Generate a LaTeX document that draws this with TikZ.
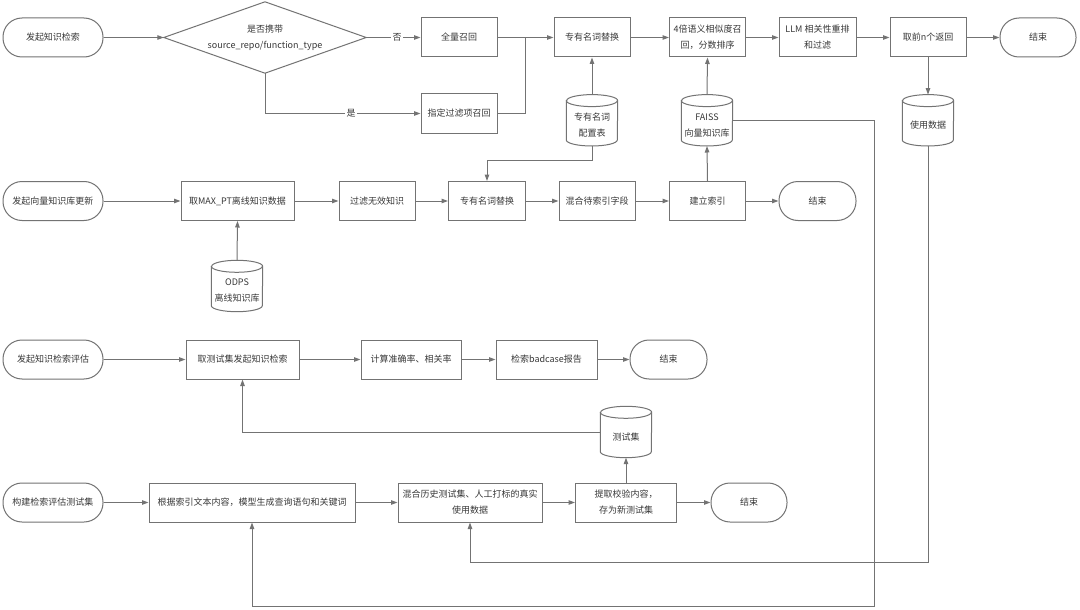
\documentclass[tikz,border=0pt]{standalone}
\usepackage{fontspec}
\setmainfont{Noto Sans CJK SC}
\usetikzlibrary{arrows.meta,calc}
\definecolor{ln}{HTML}{737373}
\definecolor{tx}{HTML}{383838}
\newcommand\drawcyl[1]{%
  \draw[cylline] ($(#1.north west)+(0,-6)$) -- ($(#1.south west)+(0,6)$)
    arc[start angle=180,end angle=360,x radius=25.5pt,y radius=6pt]
    -- ($(#1.north east)+(0,-6)$)
    arc[start angle=0,end angle=180,x radius=25.5pt,y radius=6pt] -- cycle;
  \draw[cylline] ($(#1.north west)+(0,-6)$)
    arc[start angle=180,end angle=360,x radius=25.5pt,y radius=6pt];}
\begin{document}
\begin{tikzpicture}[x=1pt,y=1pt,
  base/.style={text=tx, font=\fontsize{9}{16}\selectfont, align=center, inner sep=1pt},
  box/.style={base, draw=ln, line width=1pt, rectangle, minimum height=39pt},
  term/.style={box, rounded corners=19pt, minimum width=100pt},
  cyl/.style={rectangle, minimum width=51pt, minimum height=51pt, inner sep=0pt},
  cyltext/.style={base, yshift=-5pt},
  cylline/.style={draw=ln, line width=1pt},
  lbl/.style={base, fill=white, inner sep=1.5pt},
  arr/.style={draw=ln, line width=1pt, -{Triangle[length=6.5pt,width=4.5pt]}},
  line/.style={draw=ln, line width=1pt}]
\fill[white] (0,0) rectangle (1080,-610);
\useasboundingbox (0,0) rectangle (1080,-610);

% Row 1
\node[term] (s1) at (53,-37.5) {发起知识检索};
\node[base, minimum width=202pt, minimum height=71pt] (dia) at (265,-37.5) {是否携带\\source\_repo/function\_type};
\draw[line] (dia.north) -- (dia.east) -- (dia.south) -- (dia.west) -- cycle;
\node[box, minimum width=76pt] (qlzh) at (459,-37.5) {全量召回};
\node[box, minimum width=76pt] (zdgl) at (459,-113.5) {指定过滤项召回};
\node[box, minimum width=76pt] (zy1) at (592,-37.5) {专有名词替换};
\node[box, minimum width=76pt] (bx) at (707.5,-37.5) {4倍语义相似度召\\回，分数排序};
\node[box, minimum width=77pt] (llm) at (817.5,-37.5) {LLM 相关性重排\\和过滤};
\node[box, minimum width=76pt] (qq) at (928,-37.5) {取前n个返回};
\node[term, minimum width=76pt] (e1) at (1038,-37.5) {结束};
\node[cyl, label={[cyltext]center:专有名词\\配置表}] (cyl1) at (592,-120.3) {};
\node[cyl, label={[cyltext]center:FAISS\\向量知识库}] (faiss) at (707,-120.3) {};
\node[cyl, label={[cyltext]center:使用数据}] (usedata) at (928,-120.3) {};
\drawcyl{cyl1}\drawcyl{faiss}\drawcyl{usedata}

% Row 2
\node[term] (s2) at (53,-201) {发起向量知识库更新};
\node[box, minimum width=113pt] (maxpt) at (237.5,-201) {取MAX\_PT离线知识数据};
\node[box, minimum width=76pt] (filt) at (377,-201) {过滤无效知识};
\node[box, minimum width=77pt] (zy2) at (487,-201) {专有名词替换};
\node[box, minimum width=76pt] (mixidx) at (597,-201) {混合待索引字段};
\node[box, minimum width=76pt] (build) at (707.5,-201) {建立索引};
\node[term, minimum width=77pt] (e2) at (817.5,-201) {结束};
\node[cyl, label={[cyltext]center:ODPS\\离线知识库}] (odps) at (237,-286) {};
\drawcyl{odps}

% Row 3
\node[term] (s3) at (53,-359.5) {发起知识检索评估};
\node[box, minimum width=113pt] (take) at (242.5,-359.5) {取测试集发起知识检索};
\node[box, minimum width=100pt] (calc) at (411,-359.5) {计算准确率、相关率};
\node[box, minimum width=101pt] (bad) at (546.5,-359.5) {检索badcase报告};
\node[term, minimum width=77pt] (e3) at (668.5,-359.5) {结束};
\node[cyl, label={[cyltext]center:测试集}] (testset) at (626,-432) {};
\drawcyl{testset}

% Row 4
\node[term] (s4) at (53,-502.5) {构建检索评估测试集};
\node[box, minimum width=206pt] (gen) at (252,-502.5) {根据索引文本内容，模型生成查询语句和关键词};
\node[box, minimum width=144pt] (mix) at (470,-502.5) {混合历史测试集、人工打标的真实\\使用数据};
\node[box, minimum width=101pt] (ext) at (626,-502.5) {提取校验内容，\\存为新测试集};
\node[term, minimum width=76pt] (e4) at (749,-502.5) {结束};

% bend coordinates
\coordinate (join) at (525,-37.5);
\coordinate (k1) at (487,-160);
\coordinate (k2) at (874,-606);
\coordinate (k3) at (928,-562.6);

% Row 1 connectors
\draw[arr] (s1) -- (dia.west);
\draw[arr] (dia.east) -- (qlzh);
\draw[arr] (dia.south) |- (zdgl);
\node[lbl] (no) at (397,-37.5) {否};
\node[lbl] (yes) at (351,-113.5) {是};
\draw[arr] (qlzh) -- (zy1);
\draw[line] (zdgl.east) -| (join);
\draw[arr] (zy1) -- (bx);
\draw[arr] (bx) -- (llm);
\draw[arr] (llm) -- (qq);
\draw[arr] (qq) -- (e1);
\draw[arr] (cyl1.north) -- (zy1.south);
\draw[arr] (faiss.north) -- (bx.south);
\draw[arr] (qq.south) -- (usedata.north);
\draw[arr] (cyl1.south) |- (k1) -- (zy2.north);
\draw[arr] (faiss.east) -| (k2) -| (gen.south);
\draw[arr] (usedata.south) -- (k3) -| (mix.south);

% Row 2 connectors
\draw[arr] (s2) -- (maxpt);
\draw[arr] (maxpt) -- (filt);
\draw[arr] (filt) -- (zy2);
\draw[arr] (zy2) -- (mixidx);
\draw[arr] (mixidx) -- (build);
\draw[arr] (build) -- (e2);
\draw[arr] (odps.north) -- (maxpt.south);
\draw[arr] (build.north) -- (faiss.south);

% Row 3 connectors
\draw[arr] (s3) -- (take);
\draw[arr] (take) -- (calc);
\draw[arr] (calc) -- (bad);
\draw[arr] (bad) -- (e3);
\draw[arr] (testset.west) -| (take.south);

% Row 4 connectors
\draw[arr] (s4) -- (gen);
\draw[arr] (gen) -- (mix);
\draw[arr] (mix) -- (ext);
\draw[arr] (ext) -- (e4);
\draw[arr] (ext.north) -- (testset.south);
\end{tikzpicture}
\end{document}
